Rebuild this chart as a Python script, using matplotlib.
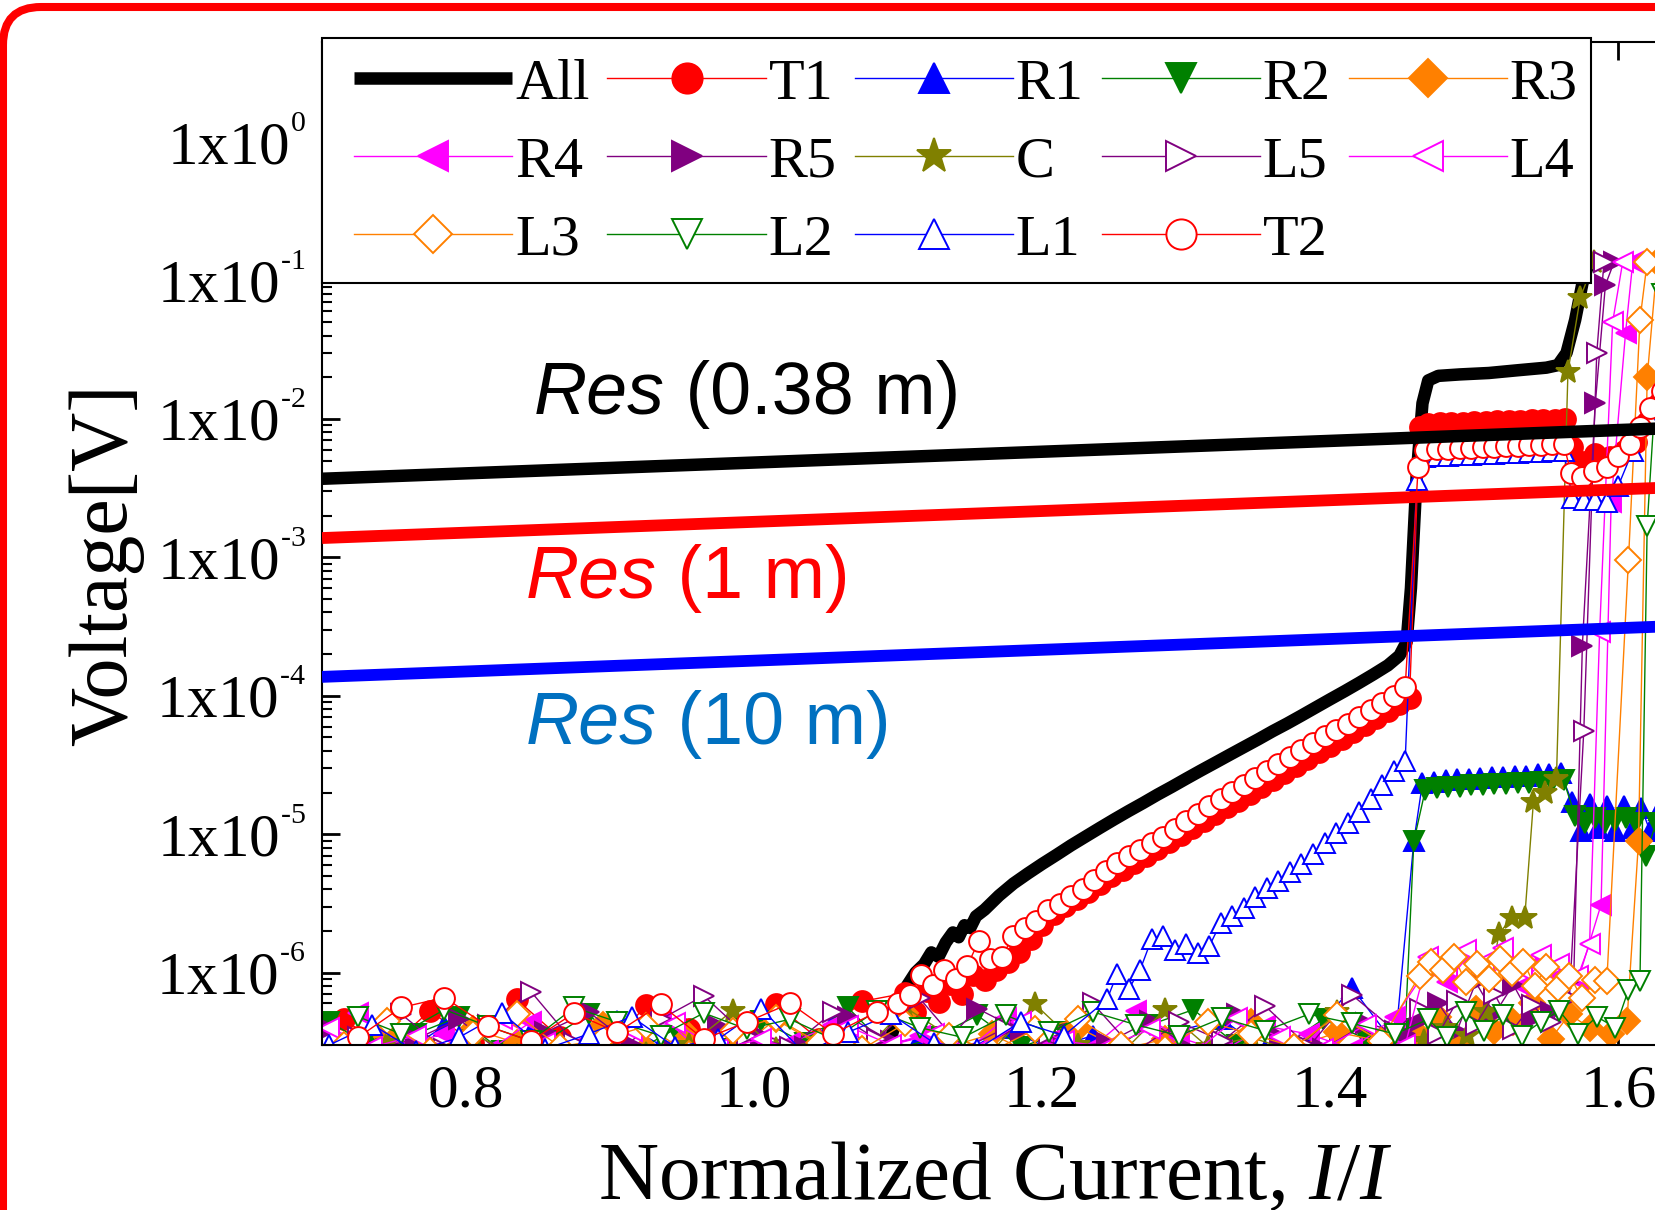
import numpy as np
import matplotlib.pyplot as plt
from matplotlib.patches import FancyBboxPatch, Rectangle
from matplotlib.transforms import IdentityTransform
from matplotlib.ticker import LogLocator, FuncFormatter, FormatStrFormatter, NullFormatter

plt.rcParams['font.family'] = ['Liberation Serif', 'DejaVu Serif']
plt.rcParams['mathtext.fontset'] = 'custom'
plt.rcParams['mathtext.rm'] = 'Liberation Serif'
plt.rcParams['mathtext.it'] = 'Liberation Serif:italic'
plt.rcParams['mathtext.bf'] = 'Liberation Serif:bold'

# noise floor sampling of the current (I/Ic)
GA = [0.705, 0.735, 0.765, 0.795, 0.825, 0.855, 0.885, 0.915, 0.945, 0.975, 1.005, 1.035, 1.065,
      1.095, 1.125, 1.155, 1.185, 1.215, 1.245, 1.275, 1.305, 1.335, 1.365, 1.395, 1.425, 1.452]
GB = [0.715, 0.745, 0.775, 0.805, 0.835, 0.865, 0.895, 0.925, 0.955, 0.985, 1.015, 1.045, 1.075,
      1.105, 1.135, 1.165, 1.195, 1.225, 1.255, 1.285, 1.315, 1.345, 1.375, 1.405, 1.435]
GC = [0.725, 0.755, 0.785, 0.815, 0.845, 0.875, 0.905, 0.935, 0.965, 0.995, 1.025, 1.055, 1.085,
      1.115, 1.145, 1.175, 1.205, 1.235, 1.265, 1.295, 1.325, 1.355, 1.385, 1.415, 1.445]

# noise floor voltages, in units of 1e-7 V
N_ALL = [2.9, 1.8, 2.2, 1.6, 2.0, 1.7, 2.3, 1.9, 1.6, 3.1, 2.4, 1.8, 2.6, 3.4]
N_T1 = [4.6, 2.8, 5.3, 3.1, 6.4, 3.4, 2.6, 5.8, 3.9, 2.9, 5.9, 3.3, 6.2, 7.1]
N_R1 = [3.2, 2.6, 4.1, 2.4, 3.7, 2.8, 4.5, 3.0, 2.5, 3.9, 2.7, 4.3, 2.9, 3.4, 2.6, 4.0, 2.8, 3.5,
        2.5, 3.8, 4.6, 2.7, 3.3, 7.8, 3.0]
N_R2 = [4.4, 2.9, 3.6, 4.8, 2.7, 3.2, 5.0, 2.6, 3.9, 2.8, 4.5, 3.1, 5.6, 2.7, 3.4, 4.9, 2.9, 3.7,
        2.6, 4.2, 5.4, 3.0, 2.8, 4.6, 3.3, 3.9]
N_R3 = [2.7, 3.4, 2.5, 3.9, 3.1, 2.6, 4.2, 2.8, 3.5, 2.6, 4.6, 3.0, 2.7, 5.1, 2.9, 3.6, 2.5, 4.0,
        2.8, 3.3, 2.6, 4.4, 2.9, 3.7, 3.2]
N_R4 = [5.1, 3.0, 3.6, 2.7, 4.4, 2.9, 3.3, 4.9, 2.6, 3.8, 3.1, 4.2, 2.8, 3.5, 2.6, 4.7, 3.2, 2.9,
        5.3, 3.4, 2.7, 4.1, 3.6, 2.8, 4.8]
N_R5 = [3.9, 2.8, 3.3, 4.6, 2.6, 3.7, 5.2, 3.0, 2.7, 4.1, 3.5, 2.9, 4.8, 3.2, 2.6, 5.5, 3.8, 2.9,
        3.1, 4.5, 2.7, 5.0, 3.4, 2.8, 4.3, 3.6]
N_C = [2.6, 3.1, 2.7, 3.6, 2.5, 2.9, 3.3, 2.6, 3.0, 5.3, 2.8, 3.2, 2.6, 5.6, 3.5, 2.7, 5.9, 3.0,
       2.6, 5.4, 2.9, 3.4, 2.7, 5.2, 3.1]
N_L5 = [3.4, 5.0, 2.8, 4.2, 7.3, 3.1, 2.7, 4.6, 6.8, 3.5, 2.9, 5.2, 3.3, 6.5, 2.8, 4.0, 3.6, 6.0,
        2.7, 4.4, 3.2, 5.7, 2.9, 6.9, 3.8]
N_L4 = [4.0, 2.9, 3.5, 2.7, 4.6, 3.1, 2.6, 3.8, 4.3, 2.8, 3.3, 2.6, 4.1, 3.0, 3.6, 2.7, 4.4, 3.2,
        2.9, 3.9, 2.6, 4.7, 3.4, 2.8, 4.2, 3.0]
N_L3 = [3.0, 4.5, 2.7, 3.6, 5.0, 2.9, 3.3, 4.1, 2.6, 3.8, 4.7, 3.1, 2.8, 4.3, 3.5, 2.7, 3.9, 4.6,
        3.0, 2.8, 4.4, 3.6, 2.9, 4.9, 3.2]
N_L2 = [4.8, 3.6, 5.4, 4.1, 3.2, 5.6, 4.4, 3.5, 5.1, 3.9, 4.6, 3.3, 5.3, 4.0, 3.4, 4.9, 3.7, 5.2,
        4.2, 3.5, 4.7, 3.8, 5.0, 4.3, 3.6]
N_L1 = [3.0, 4.2, 2.7, 3.4, 5.1, 2.8, 3.6, 4.8, 2.9, 3.3, 5.5, 2.6, 3.7, 5.0, 3.1, 2.8, 4.4, 3.5, 6.4]
N_T2 = [3.4, 5.6, 6.6, 4.1, 3.2, 5.1, 3.7, 5.9, 3.3, 4.4, 6.0, 3.6, 5.2]

# transition / quench parts (V)
ALL_X = [1.100, 1.106, 1.112, 1.118, 1.123, 1.128, 1.133, 1.138, 1.142, 1.146, 1.150, 1.154, 1.160,
         1.170, 1.180, 1.190, 1.200, 1.210, 1.220, 1.230, 1.240, 1.250, 1.260, 1.270, 1.280, 1.290,
         1.300, 1.310, 1.320, 1.330, 1.340, 1.350, 1.360, 1.370, 1.380, 1.390, 1.400, 1.410, 1.420,
         1.430, 1.440, 1.448, 1.453, 1.456, 1.460, 1.464, 1.468, 1.475, 1.490, 1.510, 1.530, 1.550,
         1.558, 1.564, 1.570, 1.575, 1.580]
ALL_Y = [5.0e-7, 8.0e-7, 1.0e-6, 1.15e-6, 1.4e-6, 1.3e-6, 1.65e-6, 1.95e-6, 1.8e-6, 2.2e-6, 2.1e-6,
         2.55e-6, 2.85e-6, 3.6e-6, 4.4e-6, 5.2e-6, 6.1e-6, 7.1e-6, 8.3e-6, 9.6e-6, 1.11e-5, 1.28e-5,
         1.47e-5, 1.68e-5, 1.93e-5, 2.2e-5, 2.52e-5, 2.88e-5, 3.28e-5, 3.74e-5, 4.26e-5, 4.85e-5,
         5.55e-5, 6.3e-5, 7.2e-5, 8.25e-5, 9.45e-5, 1.08e-4, 1.24e-4, 1.43e-4, 1.66e-4, 1.95e-4,
         2.45e-4, 6.0e-4, 4.0e-3, 1.3e-2, 1.9e-2, 2.05e-2, 2.1e-2, 2.15e-2, 2.25e-2, 2.35e-2, 2.45e-2,
         3.0e-2, 5.2e-2, 9.5e-2, 0.14]

T1_X = [1.112, 1.120, 1.128, 1.136, 1.144, 1.152, 1.160, 1.168, 1.176, 1.184, 1.192, 1.200, 1.208,
        1.216, 1.224, 1.232, 1.240, 1.248, 1.256, 1.264, 1.272, 1.280, 1.288, 1.296, 1.304, 1.312,
        1.320, 1.328, 1.336, 1.344, 1.352, 1.360, 1.368, 1.376, 1.384, 1.392, 1.400, 1.408, 1.416,
        1.424, 1.432, 1.440, 1.448, 1.455,
        1.462, 1.468, 1.476, 1.484, 1.492, 1.500, 1.508, 1.516, 1.524, 1.532, 1.540, 1.548, 1.556,
        1.563, 1.568, 1.576, 1.584, 1.594, 1.604, 1.612, 1.620, 1.628]
T1_Y = [5.2e-7, 7.4e-7, 6.1e-7, 8.3e-7, 7.0e-7, 9.6e-7, 8.8e-7, 1.05e-6, 1.2e-6, 1.4e-6, 1.75e-6,
        2.2e-6, 2.65e-6, 3.05e-6, 3.4e-6, 3.85e-6, 4.35e-6, 4.95e-6, 5.55e-6, 6.2e-6, 6.95e-6, 7.8e-6,
        8.75e-6, 9.8e-6, 1.1e-5, 1.24e-5, 1.39e-5, 1.56e-5, 1.75e-5, 1.96e-5, 2.2e-5, 2.47e-5,
        2.77e-5, 3.1e-5, 3.48e-5, 3.9e-5, 4.37e-5, 4.9e-5, 5.5e-5, 6.15e-5, 6.9e-5, 7.75e-5, 8.7e-5,
        9.6e-5,
        8.8e-3, 9.2e-3, 9.3e-3, 9.3e-3, 9.4e-3, 9.5e-3, 9.5e-3, 9.6e-3, 9.7e-3, 9.7e-3, 9.8e-3,
        9.9e-3, 9.9e-3, 1.0e-2, 6.3e-3, 4.9e-3, 5.6e-3, 5.3e-3, 5.9e-3, 6.8e-3, 9.5e-3, 1.3e-2]

R1_X = [1.458, 1.464, 1.472, 1.480, 1.488, 1.496, 1.504, 1.512, 1.520, 1.528, 1.536, 1.544, 1.552,
        1.560, 1.568, 1.574, 1.580, 1.586, 1.592, 1.598, 1.604, 1.610, 1.616, 1.622, 1.628]
R1_Y = [8.9e-6, 2.35e-5, 2.4e-5, 2.45e-5, 2.5e-5, 2.5e-5, 2.55e-5, 2.6e-5, 2.6e-5, 2.65e-5, 2.65e-5,
        2.7e-5, 2.7e-5, 2.75e-5, 1.7e-5, 1.05e-5, 1.65e-5, 1.1e-5, 1.6e-5, 1.05e-5, 1.6e-5, 1.1e-5,
        1.55e-5, 1.05e-5, 1.5e-5]

R2_X = [1.458, 1.466, 1.474, 1.482, 1.490, 1.498, 1.506, 1.514, 1.522, 1.530, 1.538, 1.546, 1.554,
        1.562, 1.570, 1.577, 1.584, 1.591, 1.598, 1.605, 1.612, 1.619, 1.626]
R2_Y = [8.9e-6, 2.1e-5, 2.15e-5, 2.2e-5, 2.2e-5, 2.25e-5, 2.25e-5, 2.3e-5, 2.3e-5, 2.35e-5, 2.35e-5,
        2.4e-5, 2.4e-5, 2.45e-5, 1.35e-5, 1.2e-5, 1.3e-5, 1.2e-5, 1.25e-5, 1.3e-5, 1.2e-5, 7.0e-6,
        1.2e-5]

R3_X = [1.462, 1.475, 1.488, 1.501, 1.514, 1.527, 1.540, 1.553, 1.566, 1.580, 1.595, 1.606, 1.614,
        1.620, 1.627]
R3_Y = [3.5e-7, 4.8e-7, 3.0e-7, 5.5e-7, 3.8e-7, 4.4e-7, 6.0e-7, 3.3e-7, 5.0e-7, 4.0e-7, 3.6e-7,
        4.5e-7, 8.9e-6, 2.0e-2, 0.136]

R4_X = [1.468, 1.481, 1.494, 1.507, 1.520, 1.533, 1.546, 1.559, 1.572, 1.588, 1.595, 1.605, 1.610]
R4_Y = [1.1e-6, 8.5e-7, 1.25e-6, 9.0e-7, 1.15e-6, 8.0e-7, 1.2e-6, 9.5e-7, 8.8e-7, 3.1e-6, 2.5e-3,
        4.2e-2, 0.136]

R5_X = [1.462, 1.475, 1.488, 1.501, 1.514, 1.527, 1.540, 1.553, 1.569, 1.575, 1.584, 1.591, 1.597]
R5_Y = [4.5e-7, 6.0e-7, 3.8e-7, 8.5e-7, 5.0e-7, 8.2e-7, 4.6e-7, 5.2e-7, 9.0e-7, 2.3e-4, 1.3e-2,
        9.3e-2, 0.136]

C_X = [1.465, 1.480, 1.495, 1.508, 1.517, 1.526, 1.535, 1.541, 1.549, 1.557, 1.565, 1.5735, 1.583]
C_Y = [3.2e-7, 4.0e-7, 3.5e-7, 5.2e-7, 1.9e-6, 2.5e-6, 2.5e-6, 1.7e-5, 2.0e-5, 2.5e-5, 2.2e-2,
       7.5e-2, 0.136]

L5_X = [1.462, 1.475, 1.488, 1.501, 1.514, 1.527, 1.540, 1.553, 1.566, 1.576, 1.585, 1.590]
L5_Y = [5.5e-7, 3.6e-7, 6.2e-7, 4.2e-7, 7.0e-7, 3.9e-7, 5.8e-7, 4.4e-7, 6.5e-7, 5.6e-5, 3.0e-2, 0.136]

L4_X = [1.468, 1.481, 1.494, 1.507, 1.520, 1.533, 1.546, 1.559, 1.572, 1.580, 1.587, 1.596, 1.603]
L4_Y = [1.3e-6, 1.1e-6, 1.45e-6, 1.2e-6, 1.5e-6, 1.05e-6, 1.35e-6, 1.15e-6, 9.5e-7, 1.6e-6, 2.9e-4,
        5.0e-2, 0.136]

L3_X = [1.462, 1.470, 1.478, 1.486, 1.494, 1.502, 1.510, 1.518, 1.526, 1.534, 1.542, 1.550, 1.558,
        1.566, 1.575, 1.584, 1.592, 1.607, 1.615, 1.620]
L3_Y = [9.5e-7, 1.2e-6, 1.05e-6, 1.3e-6, 8.5e-7, 1.15e-6, 9.0e-7, 1.25e-6, 1.0e-6, 1.2e-6, 8.0e-7,
        1.1e-6, 7.7e-7, 9.5e-7, 6.5e-7, 8.8e-7, 8.7e-7, 9.5e-4, 5.2e-2, 0.136]

L2_X = [1.468, 1.481, 1.494, 1.507, 1.520, 1.533, 1.546, 1.559, 1.572, 1.585, 1.598, 1.607, 1.615,
        1.620, 1.630]
L2_Y = [4.6e-7, 3.4e-7, 5.2e-7, 3.8e-7, 4.9e-7, 3.5e-7, 4.4e-7, 5.3e-7, 3.6e-7, 4.8e-7, 4.0e-7,
        7.5e-7, 8.7e-7, 1.7e-3, 8.0e-2]

L1_X = [1.252, 1.260, 1.268, 1.276, 1.284, 1.292, 1.300, 1.308, 1.316, 1.324, 1.332, 1.340, 1.348,
        1.356, 1.364, 1.372, 1.380, 1.388, 1.396, 1.404, 1.412, 1.420, 1.428, 1.436, 1.444, 1.452,
        1.460, 1.466, 1.474, 1.482, 1.490, 1.498, 1.506, 1.514, 1.522, 1.530, 1.538, 1.546, 1.554,
        1.562, 1.568, 1.576, 1.584, 1.592, 1.600, 1.610, 1.622, 1.630]
L1_Y = [9.8e-7, 7.6e-7, 1.05e-6, 1.75e-6, 1.85e-6, 1.45e-6, 1.6e-6, 1.38e-6, 1.55e-6, 2.3e-6, 2.55e-6,
        2.95e-6, 3.5e-6, 4.1e-6, 4.6e-6, 5.3e-6, 6.1e-6, 7.2e-6, 8.6e-6, 1.02e-5, 1.2e-5, 1.45e-5,
        1.8e-5, 2.25e-5, 2.85e-5, 3.4e-5,
        3.6e-3, 5.3e-3, 5.4e-3, 5.4e-3, 5.5e-3, 5.5e-3, 5.6e-3, 5.6e-3, 5.7e-3, 5.7e-3, 5.8e-3,
        5.8e-3, 5.9e-3, 5.9e-3, 2.7e-3, 2.6e-3, 2.6e-3, 2.5e-3, 3.3e-3, 5.9e-3, 1.0e-2, 1.4e-2]

T2_X = [1.100, 1.108, 1.116, 1.124, 1.132, 1.140, 1.148, 1.156, 1.164, 1.172, 1.180, 1.188, 1.196,
        1.204, 1.212, 1.220, 1.228, 1.236, 1.244, 1.252, 1.260, 1.268, 1.276, 1.284, 1.292, 1.300,
        1.308, 1.316, 1.324, 1.332, 1.340, 1.348, 1.356, 1.364, 1.372, 1.380, 1.388, 1.396, 1.404,
        1.412, 1.420, 1.428, 1.436, 1.444, 1.452,
        1.461, 1.466, 1.474, 1.482, 1.490, 1.498, 1.506, 1.514, 1.522, 1.530, 1.538, 1.546, 1.554,
        1.562, 1.567, 1.575, 1.583, 1.592, 1.600, 1.608, 1.615, 1.622, 1.630]
T2_Y = [6.0e-7, 6.9e-7, 9.6e-7, 8.2e-7, 1.05e-6, 9.0e-7, 1.12e-6, 1.7e-6, 1.25e-6, 1.3e-6, 1.85e-6,
        2.1e-6, 2.35e-6, 2.85e-6, 3.15e-6, 3.55e-6, 4.05e-6, 4.7e-6, 5.45e-6, 6.2e-6, 6.95e-6, 7.7e-6,
        8.6e-6, 9.6e-6, 1.09e-5, 1.24e-5, 1.4e-5, 1.6e-5, 1.8e-5, 2.02e-5, 2.26e-5, 2.55e-5, 2.88e-5,
        3.22e-5, 3.62e-5, 4.05e-5, 4.55e-5, 5.1e-5, 5.7e-5, 6.3e-5, 7.05e-5, 7.9e-5, 8.85e-5, 1.0e-4,
        1.15e-4,
        4.5e-3, 6.0e-3, 6.1e-3, 6.1e-3, 6.2e-3, 6.2e-3, 6.3e-3, 6.3e-3, 6.4e-3, 6.4e-3, 6.5e-3,
        6.5e-3, 6.6e-3, 6.6e-3, 4.1e-3, 3.8e-3, 4.2e-3, 4.5e-3, 5.4e-3, 6.6e-3, 8.8e-3, 1.2e-2, 1.6e-2]

# resistance reference lines (end points)
RES_X = [0.70, 1.656]
RES_038 = [3.7e-3, 8.75e-3]
RES_1 = [1.38e-3, 3.26e-3]
RES_10 = [1.37e-4, 3.24e-4]


def join(grid, noise, xs, ys):
    x = list(grid[:len(noise)]) + xs
    y = [v * 1e-7 for v in noise] + ys
    return x, y


RED, BLUE, GREEN, ORANGE = '#FF0000', '#0000FF', '#008000', '#FF8000'
MAGENTA, PURPLE, OLIVE = '#FF00FF', '#800080', '#808000'

# label, (x, y), marker, color, filled, markersize
series = [
    ('T1', join(GB, N_T1, T1_X, T1_Y), 'o', RED, True, 15),
    ('R1', join(GC, N_R1, R1_X, R1_Y), '^', BLUE, True, 15),
    ('R2', join(GA, N_R2, R2_X, R2_Y), 'v', GREEN, True, 15),
    ('R3', join(GB, N_R3, R3_X, R3_Y), 'D', ORANGE, True, 13),
    ('R4', join(GC, N_R4, R4_X, R4_Y), '<', MAGENTA, True, 15),
    ('R5', join(GA, N_R5, R5_X, R5_Y), '>', PURPLE, True, 15),
    ('C', join(GB, N_C, C_X, C_Y), '*', OLIVE, True, 18),
    ('L5', join(GC, N_L5, L5_X, L5_Y), '>', PURPLE, False, 15),
    ('L4', join(GA, N_L4, L4_X, L4_Y), '<', MAGENTA, False, 15),
    ('L3', join(GB, N_L3, L3_X, L3_Y), 'D', ORANGE, False, 13),
    ('L2', join(GC, N_L2, L2_X, L2_Y), 'v', GREEN, False, 15),
    ('L1', join(GA, N_L1, L1_X, L1_Y), '^', BLUE, False, 15),
    ('T2', join(GC, N_T2, T2_X, T2_Y), 'o', RED, False, 15),
]

fig = plt.figure(figsize=(16.55, 12.10), dpi=100)
ax = fig.add_axes([0.1946, 0.1364, 0.832, 0.8289])

handles = {}
ax_all, ay_all = join(GA, N_ALL, ALL_X, ALL_Y)
handles['All'], = ax.plot(ax_all, ay_all, color='black', lw=9, solid_capstyle='butt', zorder=2)
for lab, (x, y), m, c, filled, ms in series:
    handles[lab], = ax.plot(x, y, marker=m, color=c, lw=1.0, ms=ms,
                            mfc=c if filled else 'white', mec=c, mew=1.4, zorder=2)

ax.plot(RES_X, RES_038, color='black', lw=9, solid_capstyle='butt', zorder=3)
ax.plot(RES_X, RES_1, color=RED, lw=8.5, solid_capstyle='butt', zorder=3)
ax.plot(RES_X, RES_10, color=BLUE, lw=8.5, solid_capstyle='butt', zorder=3)


def res_label(x, y, rest, color):
    t = ax.text(x, y, 'Res', fontfamily='Liberation Sans', style='italic', fontsize=53,
                color=color, ha='left', va='baseline', zorder=6)
    ax.annotate(' ' + rest, xy=(1, 0), xycoords=t, ha='left', va='bottom',
                fontfamily='Liberation Sans', fontsize=53, color=color, zorder=6)


res_label(0.8468, 1.087e-2, '(0.38 m)', 'black')
res_label(0.8413, 5.09e-4, '(1 m)', RED)
res_label(0.8413, 4.49e-5, '(10 m)', '#0070C0')

ax.set_xlim(0.70, 1.656)
ax.set_yscale('log')
ax.set_ylim(3.0e-7, 5.3)
ax.set_xticks([0.8, 1.0, 1.2, 1.4, 1.6])
ax.xaxis.set_major_formatter(FormatStrFormatter('%.1f'))
ax.yaxis.set_major_locator(LogLocator(base=10, numticks=20))
ax.yaxis.set_minor_locator(LogLocator(base=10, subs=range(2, 10), numticks=20))
ax.yaxis.set_minor_formatter(NullFormatter())


def ylab(v, pos):
    e = int(round(np.log10(v)))
    s = str(e).replace('-', '\u2010')
    return r'$\mathregular{1x10^{{}^{%s}}}$' % s


ax.yaxis.set_major_formatter(FuncFormatter(ylab))
ax.tick_params(which='major', direction='in', length=13, width=2, top=True, right=True)
ax.tick_params(which='minor', direction='in', length=7, width=1.5, right=True)
ax.tick_params(axis='x', pad=14, labelsize=44)
ax.tick_params(axis='y', pad=12, labelsize=44)
for sp in ax.spines.values():
    sp.set_linewidth(1.5)

xl = ax.set_xlabel(r'Normalized Current, $I/I$', fontsize=60)
ax.set_ylabel('Voltage[V]', fontsize=59)
ax.xaxis.set_label_coords(0.4887, -0.0957)
ax.yaxis.set_label_coords(-0.129, 0.4786)
# subscript of I/I, mostly below the picture edge
ax.annotate('c', xy=(1, 0), xycoords=xl, xytext=(2, 12), textcoords='offset pixels',
            ha='left', va='top', fontsize=42, style='italic')

# legend box (white, black frame) and entries laid out row by row
fig.add_artist(Rectangle((322 / 1655, 927 / 1210), 1269 / 1655, 245 / 1210,
                         transform=fig.transFigure, facecolor='white', edgecolor='black',
                         linewidth=1.5, zorder=1.5))
order = ['All', 'R4', 'L3', 'T1', 'R5', 'L2', 'R1', 'C', 'L1', 'R2', 'L5', 'T2', 'R3', 'L4']
leg = fig.legend([handles[k] for k in order], order, loc='upper left',
                 bbox_to_anchor=(0.2139, 0.952), bbox_transform=fig.transFigure, ncol=5,
                 frameon=False, fontsize=42, handlelength=2.71, handletextpad=0.05,
                 columnspacing=0.31, labelspacing=0.43, borderpad=0, borderaxespad=0,
                 markerscale=1.45, numpoints=1)
leg.set_zorder(2)

# red rounded frame around the picture
fig.add_artist(FancyBboxPatch((3, -300), 2200, 1203 + 300,
                              boxstyle='round,pad=0,rounding_size=38',
                              transform=IdentityTransform(), fill=False, edgecolor='red',
                              linewidth=5.8, zorder=10))

fig.savefig('out.png', dpi=100)
